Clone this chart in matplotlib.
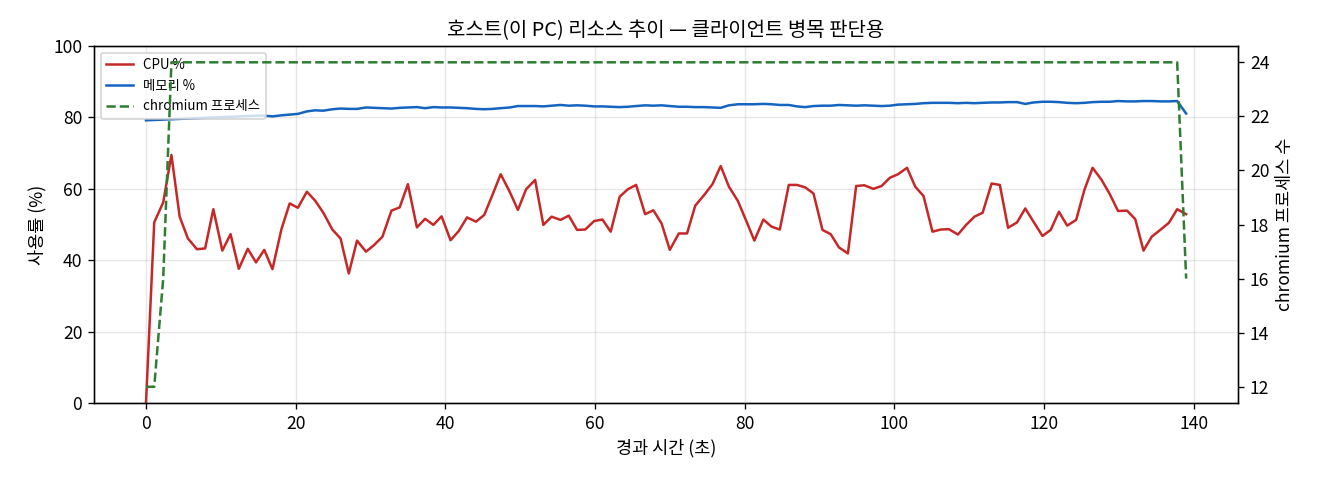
import numpy as np
import matplotlib
matplotlib.use("Agg")
import matplotlib.pyplot as plt

plt.rcParams['font.family'] = ['Noto Sans CJK KR', 'DejaVu Sans']

# elapsed time (s)
t = [0.0, 1.1, 2.3, 3.4, 4.5, 5.6, 6.8, 7.9, 9.0, 10.2,
     11.3, 12.4, 13.6, 14.7, 15.8, 16.9, 18.1, 19.2, 20.3, 21.5,
     22.6, 23.7, 24.9, 26.0, 27.1, 28.2, 29.4, 30.5, 31.6, 32.8,
     33.9, 35.0, 36.2, 37.3, 38.4, 39.5, 40.7, 41.8, 42.9, 44.1,
     45.2, 46.3, 47.4, 48.6, 49.7, 50.8, 52.0, 53.1, 54.2, 55.4,
     56.5, 57.6, 58.7, 59.9, 61.0, 62.1, 63.3, 64.4, 65.5, 66.7,
     67.8, 68.9, 70.0, 71.2, 72.3, 73.4, 74.6, 75.7, 76.8, 77.9,
     79.1, 80.2, 81.3, 82.5, 83.6, 84.7, 85.9, 87.0, 88.1, 89.2,
     90.4, 91.5, 92.6, 93.8, 94.9, 96.0, 97.2, 98.3, 99.4, 100.5,
     101.7, 102.8, 103.9, 105.1, 106.2, 107.3, 108.5, 109.6, 110.7, 111.8,
     113.0, 114.1, 115.2, 116.4, 117.5, 118.6, 119.8, 120.9, 122.0, 123.1,
     124.3, 125.4, 126.5, 127.7, 128.8, 129.9, 131.1, 132.2, 133.3, 134.4,
     135.6, 136.7, 137.8, 139.0]

cpu = [0.0, 50.6, 56.2, 69.5, 52.2, 46.1, 43.1, 43.3, 54.3, 42.7,
       47.3, 37.6, 43.2, 39.4, 42.9, 37.5, 48.7, 55.9, 54.7, 59.2,
       56.7, 53.3, 48.6, 46.1, 36.3, 45.5, 42.4, 44.3, 46.6, 53.9,
       54.8, 61.3, 49.2, 51.6, 49.9, 52.3, 45.6, 48.2, 52.0, 50.8,
       52.7, 58.3, 64.1, 59.2, 54.1, 59.9, 62.5, 49.9, 52.2, 51.3,
       52.5, 48.5, 48.6, 51.0, 51.4, 48.0, 57.8, 59.9, 61.1, 52.9,
       54.0, 50.3, 42.9, 47.5, 47.5, 55.3, 58.3, 61.3, 66.4, 60.6,
       56.6, 51.1, 45.5, 51.4, 49.4, 48.6, 61.1, 61.1, 60.4, 58.7,
       48.5, 47.3, 43.6, 41.9, 60.8, 61.0, 60.0, 60.8, 63.1, 64.1,
       65.9, 60.6, 58.0, 48.0, 48.6, 48.7, 47.2, 49.9, 52.2, 53.3,
       61.5, 61.1, 49.1, 50.6, 54.5, 50.8, 46.8, 48.5, 53.6, 49.7,
       51.3, 59.7, 65.9, 62.5, 58.5, 53.8, 53.9, 51.5, 42.7, 46.6,
       48.6, 50.5, 54.3, 52.9]

mem = [79.2, 79.3, 79.4, 79.5, 79.6, 79.7, 79.8, 79.9, 80.0, 80.1,
       80.2, 80.3, 80.4, 80.5, 80.5, 80.3, 80.6, 80.8, 81.0, 81.7,
       82.0, 81.9, 82.3, 82.5, 82.4, 82.4, 82.8, 82.7, 82.6, 82.5,
       82.7, 82.8, 82.9, 82.6, 82.9, 82.8, 82.8, 82.7, 82.6, 82.4,
       82.3, 82.4, 82.6, 82.8, 83.2, 83.2, 83.2, 83.1, 83.3, 83.5,
       83.3, 83.4, 83.3, 83.1, 83.1, 83.0, 82.9, 83.0, 83.2, 83.4,
       83.3, 83.4, 83.2, 83.0, 83.0, 82.9, 82.9, 82.8, 82.7, 83.4,
       83.7, 83.7, 83.7, 83.8, 83.7, 83.5, 83.5, 83.1, 82.9, 83.2,
       83.3, 83.3, 83.5, 83.4, 83.3, 83.4, 83.3, 83.2, 83.3, 83.6,
       83.7, 83.8, 84.0, 84.1, 84.1, 84.1, 84.0, 84.1, 84.0, 84.1,
       84.2, 84.2, 84.3, 84.3, 83.8, 84.2, 84.4, 84.4, 84.3, 84.1,
       84.0, 84.1, 84.3, 84.4, 84.4, 84.6, 84.5, 84.5, 84.6, 84.6,
       84.5, 84.5, 84.6, 81.1]

# chromium process count
procs = [12, 12, 16] + [24] * 120 + [16]

fig = plt.figure(figsize=(11, 4), dpi=120)
ax1 = fig.add_axes([0.0712, 0.1604, 0.8668, 0.7436])
ax2 = ax1.twinx()

l1, = ax1.plot(t, cpu, color='#c62828', lw=1.5, label='CPU %')
l2, = ax1.plot(t, mem, color='#1565c0', lw=1.5, label='메모리 %')
l3, = ax2.plot(t, procs, color='#2e7d32', lw=1.5, ls='--', label='chromium 프로세스')

ax1.set_ylim(0, 100)
ax1.set_xlabel('경과 시간 (초)', fontsize=10.5)
ax1.set_ylabel('사용률 (%)', fontsize=10.5)
ax2.set_ylabel('chromium 프로세스 수', fontsize=10.5)
ax1.tick_params(labelsize=10.5)
ax2.tick_params(labelsize=10.5)
ax1.grid(True, alpha=0.3)
ax1.set_title('호스트(이 PC) 리소스 추이 — 클라이언트 병목 판단용', fontsize=12)

ax1.legend(handles=[l1, l2, l3], loc='upper left', fontsize=8)

fig.savefig('out.png', dpi=120)
